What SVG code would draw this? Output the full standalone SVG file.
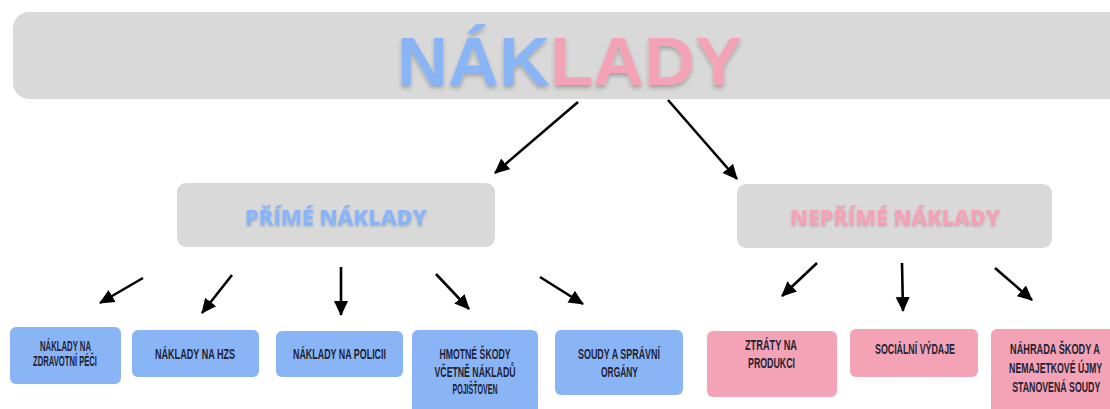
<svg xmlns="http://www.w3.org/2000/svg" width="1110" height="409" viewBox="0 0 1110 409">
  <style>
    .bar { fill: #d9d9d9; }
    .blue { fill: #89b5f7; }
    .pink { fill: #f4a2b6; }
    .tblue { fill: #89b5f7; }
    .tpink { fill: #f4a2b6; }
    .title { font-family: "Liberation Sans", Arial, sans-serif; font-weight: bold; font-size: 68px; }
    .mid { font-family: "Open Sans", "Liberation Sans", sans-serif; font-weight: 800; font-size: 21px; text-anchor: middle; }
    .lbl { font-family: "Liberation Sans", Arial, sans-serif; font-weight: bold; font-size: 14px; fill: #222233; text-anchor: middle; }
    .conn line { stroke: #000; stroke-width: 2.6; fill: none; }
  </style>
  <defs>
    <marker id="ah" markerUnits="userSpaceOnUse" markerWidth="16" markerHeight="16" refX="14" refY="8" orient="auto">
      <path d="M0,1 L15,8 L0,15 Z" fill="#000"/>
    </marker>
    <filter id="sh" x="-10%" y="-30%" width="120%" height="160%">
      <feDropShadow dx="0" dy="3" stdDeviation="2" flood-color="#000" flood-opacity="0.25"/>
    </filter>
    <filter id="sh2" x="-10%" y="-30%" width="120%" height="160%">
      <feDropShadow dx="0" dy="1.5" stdDeviation="1.2" flood-color="#000" flood-opacity="0.2"/>
    </filter>
  </defs>
  <rect width="1110" height="409" fill="#ffffff"/>

  <g id="title">
    <rect class="bar" x="13" y="12" width="1120" height="87" rx="16"/>
    <text class="title" x="397" y="85" textLength="345" lengthAdjust="spacingAndGlyphs" filter="url(#sh)"><tspan class="tblue">NÁK</tspan><tspan class="tpink">LADY</tspan></text>
  </g>

  <g id="prime">
    <rect class="bar" x="177" y="183" width="318" height="64" rx="9"/>
    <text class="mid tblue" x="336" y="225" textLength="182" lengthAdjust="spacingAndGlyphs" filter="url(#sh2)">PŘÍMÉ NÁKLADY</text>
  </g>

  <g id="neprime">
    <rect class="bar" x="737" y="184" width="315" height="64" rx="9"/>
    <text class="mid tpink" x="895" y="225" textLength="210" lengthAdjust="spacingAndGlyphs" filter="url(#sh2)">NEPŘÍMÉ NÁKLADY</text>
  </g>

  <g id="zdravotni">
    <rect class="blue" x="10" y="327" width="111" height="57" rx="6"/>
    <text class="lbl" x="65.5" y="351" textLength="51" lengthAdjust="spacingAndGlyphs">NÁKLADY NA</text>
    <text class="lbl" x="65" y="366" textLength="64" lengthAdjust="spacingAndGlyphs">ZDRAVOTNÍ PÉČI</text>
  </g>

  <g id="hzs">
    <rect class="blue" x="132" y="330" width="127" height="47" rx="6"/>
    <text class="lbl" x="195" y="359" textLength="80" lengthAdjust="spacingAndGlyphs">NÁKLADY NA HZS</text>
  </g>

  <g id="policie">
    <rect class="blue" x="276" y="331" width="127" height="46" rx="6"/>
    <text class="lbl" x="339.5" y="359" textLength="93" lengthAdjust="spacingAndGlyphs">NÁKLADY NA POLICII</text>
  </g>

  <g id="hmotne">
    <rect class="blue" x="412" y="330" width="126" height="90" rx="6"/>
    <text class="lbl" x="475" y="359" textLength="71" lengthAdjust="spacingAndGlyphs">HMOTNÉ ŠKODY</text>
    <text class="lbl" x="475" y="377" textLength="81" lengthAdjust="spacingAndGlyphs">VČETNĚ NÁKLADŮ</text>
    <text class="lbl" x="475" y="394" textLength="45" lengthAdjust="spacingAndGlyphs">POJIŠŤOVEN</text>
  </g>

  <g id="soudy">
    <rect class="blue" x="555" y="330" width="128" height="65" rx="6"/>
    <text class="lbl" x="619" y="359" textLength="82" lengthAdjust="spacingAndGlyphs">SOUDY A SPRÁVNÍ</text>
    <text class="lbl" x="619.5" y="377" textLength="37" lengthAdjust="spacingAndGlyphs">ORGÁNY</text>
  </g>

  <g id="ztraty">
    <rect class="pink" x="707" y="331" width="130" height="66" rx="6"/>
    <text class="lbl" x="771" y="350" textLength="52" lengthAdjust="spacingAndGlyphs">ZTRÁTY NA</text>
    <text class="lbl" x="771.5" y="368" textLength="47" lengthAdjust="spacingAndGlyphs">PRODUKCI</text>
  </g>

  <g id="socialni">
    <rect class="pink" x="850" y="329" width="128" height="48" rx="6"/>
    <text class="lbl" x="915" y="354" textLength="80" lengthAdjust="spacingAndGlyphs">SOCIÁLNÍ VÝDAJE</text>
  </g>

  <g id="nahrada">
    <rect class="pink" x="991" y="329" width="130" height="92" rx="6"/>
    <g transform="translate(1055 0) scale(0.62 1)">
      <text class="lbl" x="0" y="354" textLength="145" lengthAdjust="spacingAndGlyphs">NÁHRADA ŠKODY A</text>
      <text class="lbl" x="1" y="373" textLength="150" lengthAdjust="spacingAndGlyphs">NEMAJETKOVÉ ÚJMY</text>
      <text class="lbl" x="2" y="392" textLength="142" lengthAdjust="spacingAndGlyphs">STANOVENÁ SOUDY</text>
    </g>
  </g>

  <g id="connectors" class="conn">
    <line x1="578" y1="102" x2="495" y2="173" marker-end="url(#ah)"/>
    <line x1="668" y1="100" x2="737" y2="179" marker-end="url(#ah)"/>
    <line x1="143" y1="278" x2="100" y2="303" marker-end="url(#ah)"/>
    <line x1="232" y1="275" x2="202" y2="313" marker-end="url(#ah)"/>
    <line x1="341" y1="267" x2="341" y2="315" marker-end="url(#ah)"/>
    <line x1="436" y1="274" x2="469" y2="309" marker-end="url(#ah)"/>
    <line x1="540" y1="277" x2="583" y2="304" marker-end="url(#ah)"/>
    <line x1="817" y1="263" x2="782" y2="296" marker-end="url(#ah)"/>
    <line x1="902" y1="263" x2="903" y2="311" marker-end="url(#ah)"/>
    <line x1="995" y1="268" x2="1032" y2="300" marker-end="url(#ah)"/>
  </g>
</svg>
